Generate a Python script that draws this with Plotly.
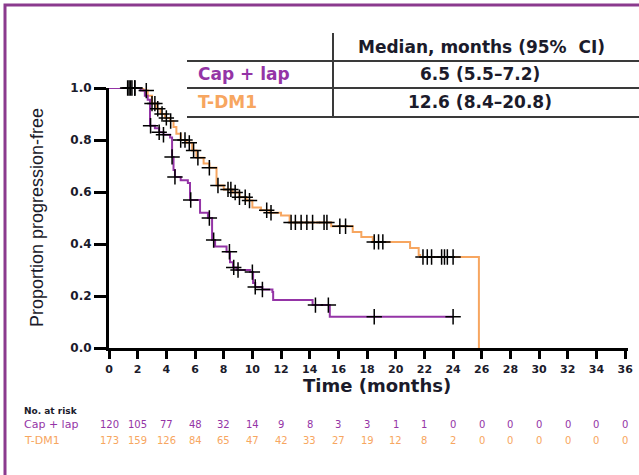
import numpy as np
import plotly.graph_objects as go

# ---------------- data ----------------
cap_t = [0, 2.2, 2.5, 2.7, 2.86, 3.2, 3.5, 3.8, 4.26, 4.4, 4.5, 4.6, 5.0, 5.5, 5.65, 6.35, 6.9, 7.19,
         7.4, 8.2, 8.44, 8.65, 8.9, 9.84, 10.05, 10.2, 10.7, 11.4, 11.45, 14.2, 15.4, 24.0]
cap_s = [1.0, 0.99, 0.97, 0.955, 0.855, 0.845, 0.83, 0.82, 0.81, 0.735, 0.685, 0.658, 0.645, 0.635,
         0.569, 0.52, 0.50, 0.415, 0.39, 0.37, 0.33, 0.31, 0.30, 0.292, 0.25, 0.235, 0.225, 0.215,
         0.185, 0.165, 0.12, 0.12]
cap_cens = [1.4, 1.6, 1.8, 2.9, 3.5, 3.8, 4.4, 4.6, 5.7, 7.0, 7.3, 8.4, 8.7, 9.0, 10.0, 10.2, 10.7,
            14.4, 15.3, 18.5, 24.0]

tdm_t = [0, 2.3, 2.4, 2.7, 3.0, 3.3, 3.6, 3.9, 4.26, 4.5, 4.7, 5.0, 5.4, 5.8, 6.1, 6.6, 7.0, 7.5, 8.0,
         8.6, 9.1, 9.6, 10.0, 10.6, 11.2, 12.0, 12.6, 15.5, 17.0, 17.6, 18.4, 21.0, 21.6, 21.7, 25.8, 25.8]
tdm_s = [1.0, 1.0, 0.99, 0.97, 0.94, 0.92, 0.90, 0.885, 0.873, 0.85, 0.824, 0.80, 0.789, 0.76, 0.732,
         0.71, 0.693, 0.625, 0.61, 0.598, 0.58, 0.567, 0.54, 0.53, 0.52, 0.51, 0.483, 0.468, 0.446, 0.427,
         0.408, 0.385, 0.358, 0.35, 0.35, 0.0]
tdm_cens = [1.3, 1.5, 1.8, 2.6, 3.0, 3.2, 3.4, 3.7, 4.0, 4.3, 5.0, 5.3, 5.6, 5.9, 6.2, 7.0, 7.6, 8.3,
            8.5, 8.8, 9.1, 9.5, 9.8, 11.0, 11.3, 12.7, 13.0, 13.4, 13.8, 14.2, 15.0, 15.2, 16.1, 16.5,
            18.5, 18.8, 19.1, 21.9, 22.2, 22.5, 23.2, 23.4, 23.6, 24.0]

x_ticks = list(range(0, 37, 2))
y_ticks = [0.0, 0.2, 0.4, 0.6, 0.8, 1.0]
risk_cap = [120, 105, 77, 48, 32, 14, 9, 8, 3, 3, 1, 1, 0, 0, 0, 0, 0, 0, 0]
risk_tdm = [173, 159, 126, 84, 65, 47, 42, 33, 27, 19, 12, 8, 2, 0, 0, 0, 0, 0, 0]

groups = ["Cap + lap", "T-DM1"]
medians = ["6.5 (5.5–7.2)", "12.6 (8.4–20.8)"]
header = "Median, months (95%  CI)"

# ---------------- style ----------------
PURPLE = "#9434A6"
ORANGE = "#F7A660"
FRAME = "#8B3A8E"
W, H = 639, 475
L, R, T, B = 109, 11, 88, 127
PW, PH = W - L - R, H - T - B


def px(x):
    return (x - L) / PW


def py(y):
    return (H - B - y) / PH


def step_at(ts, ss, q):
    idx = np.searchsorted(np.array(ts), np.array(q), side="right") - 1
    return [ss[i] for i in idx]


fig = go.Figure()
fig.add_trace(go.Scatter(x=tdm_t, y=tdm_s, mode="lines", line=dict(color=ORANGE, width=2, shape="hv"),
                         cliponaxis=False, showlegend=False))
fig.add_trace(go.Scatter(x=cap_t, y=cap_s, mode="lines", line=dict(color=PURPLE, width=2, shape="hv"),
                         cliponaxis=False, showlegend=False))
for ts, ss, cs in [(tdm_t, tdm_s, tdm_cens), (cap_t, cap_s, cap_cens)]:
    fig.add_trace(go.Scatter(x=cs, y=step_at(ts, ss, cs), mode="markers", cliponaxis=False,
                             marker=dict(symbol="cross-thin", size=11, color="black",
                                         line=dict(color="black", width=1.5)),
                             showlegend=False))

shapes = []
# outer frame
shapes.append(dict(type="rect", xref="paper", yref="paper", x0=px(5), x1=px(700), y0=py(540), y1=py(5),
                   line=dict(color=FRAME, width=3), layer="below"))
# table lines
for yy in [61, 88, 117]:
    shapes.append(dict(type="line", xref="paper", yref="paper", x0=px(187), x1=px(639), y0=py(yy), y1=py(yy),
                       line=dict(color="#3a3a3a", width=2)))
shapes.append(dict(type="line", xref="paper", yref="paper", x0=px(333), x1=px(333), y0=py(33), y1=py(117),
                   line=dict(color="#3a3a3a", width=2)))

ann = []
TF = "DejaVu Sans"
ann.append(dict(text="<b>" + header + "</b>", x=px(481), y=py(47), xref="paper", yref="paper",
                showarrow=False, font=dict(family=TF, size=17, color="#1b1b2b"), xanchor="center", yanchor="middle"))
for i, (g, m, c) in enumerate(zip(groups, medians, [PURPLE, ORANGE])):
    yy = 74 + i * 28
    ann.append(dict(text="<b>" + g + "</b>", x=px(196), y=py(yy), xref="paper", yref="paper", showarrow=False,
                    font=dict(family=TF, size=17, color=c), xanchor="left", yanchor="middle"))
    ann.append(dict(text="<b>" + m + "</b>", x=px(480), y=py(yy), xref="paper", yref="paper", showarrow=False,
                    font=dict(family=TF, size=17, color="#1b1b2b"), xanchor="center", yanchor="middle"))

# axis titles
ann.append(dict(text="<b>Time (months)</b>", x=px(377), y=py(385), xref="paper", yref="paper", showarrow=False,
                font=dict(family=TF, size=18, color="#1b1b2b"), xanchor="center", yanchor="middle"))
ann.append(dict(text="Proportion progression-free", x=px(37), y=py(218), xref="paper", yref="paper",
                showarrow=False, textangle=-90,
                font=dict(family="Liberation Sans", size=18, color="#1b1b2b"), xanchor="center", yanchor="middle"))

# number at risk
ann.append(dict(text="<b>No. at risk</b>", x=px(22), y=py(411), xref="paper", yref="paper", showarrow=False,
                font=dict(family=TF, size=9, color="#1b1b2b"), xanchor="left", yanchor="middle"))
for lab, vals, c, yy in [("Cap + lap", risk_cap, PURPLE, 424), ("T-DM1", risk_tdm, ORANGE, 440)]:
    ann.append(dict(text=lab, x=px(22), y=py(yy), xref="paper", yref="paper", showarrow=False,
                    font=dict(family=TF, size=11, color=c), xanchor="left", yanchor="middle"))
    for xt, v in zip(x_ticks, vals):
        ann.append(dict(text=str(v), x=xt, y=py(yy), xref="x", yref="paper", showarrow=False,
                        font=dict(family=TF, size=10, color=c), xanchor="center", yanchor="middle"))

fig.update_layout(
    width=W, height=H, margin=dict(l=L, r=R, t=T, b=B),
    paper_bgcolor="white", plot_bgcolor="white",
    shapes=shapes, annotations=ann,
    xaxis=dict(range=[0, 36.2], tickvals=x_ticks, ticktext=["<b>%d</b>" % v for v in x_ticks],
               showline=True, linewidth=3, linecolor="black", ticks="outside", ticklen=8, tickwidth=3,
               tickcolor="black", showgrid=False, zeroline=False, ticklabelstandoff=1,
               tickfont=dict(family=TF, size=11, color="#1b1b2b"), fixedrange=True, automargin=False),
    yaxis=dict(range=[0, 1.0], tickvals=y_ticks, ticktext=["<b>%.1f</b>" % v for v in y_ticks],
               showline=True, linewidth=3, linecolor="black", ticks="outside", ticklen=12, tickwidth=3,
               tickcolor="black", showgrid=False, zeroline=False, automargin=False,
               tickfont=dict(family=TF, size=12, color="#1b1b2b"), fixedrange=True),
)
fig.write_html("out.html", config={"displayModeBar": False},
               post_script="document.body.style.margin='0px';document.body.style.overflow='hidden';")
